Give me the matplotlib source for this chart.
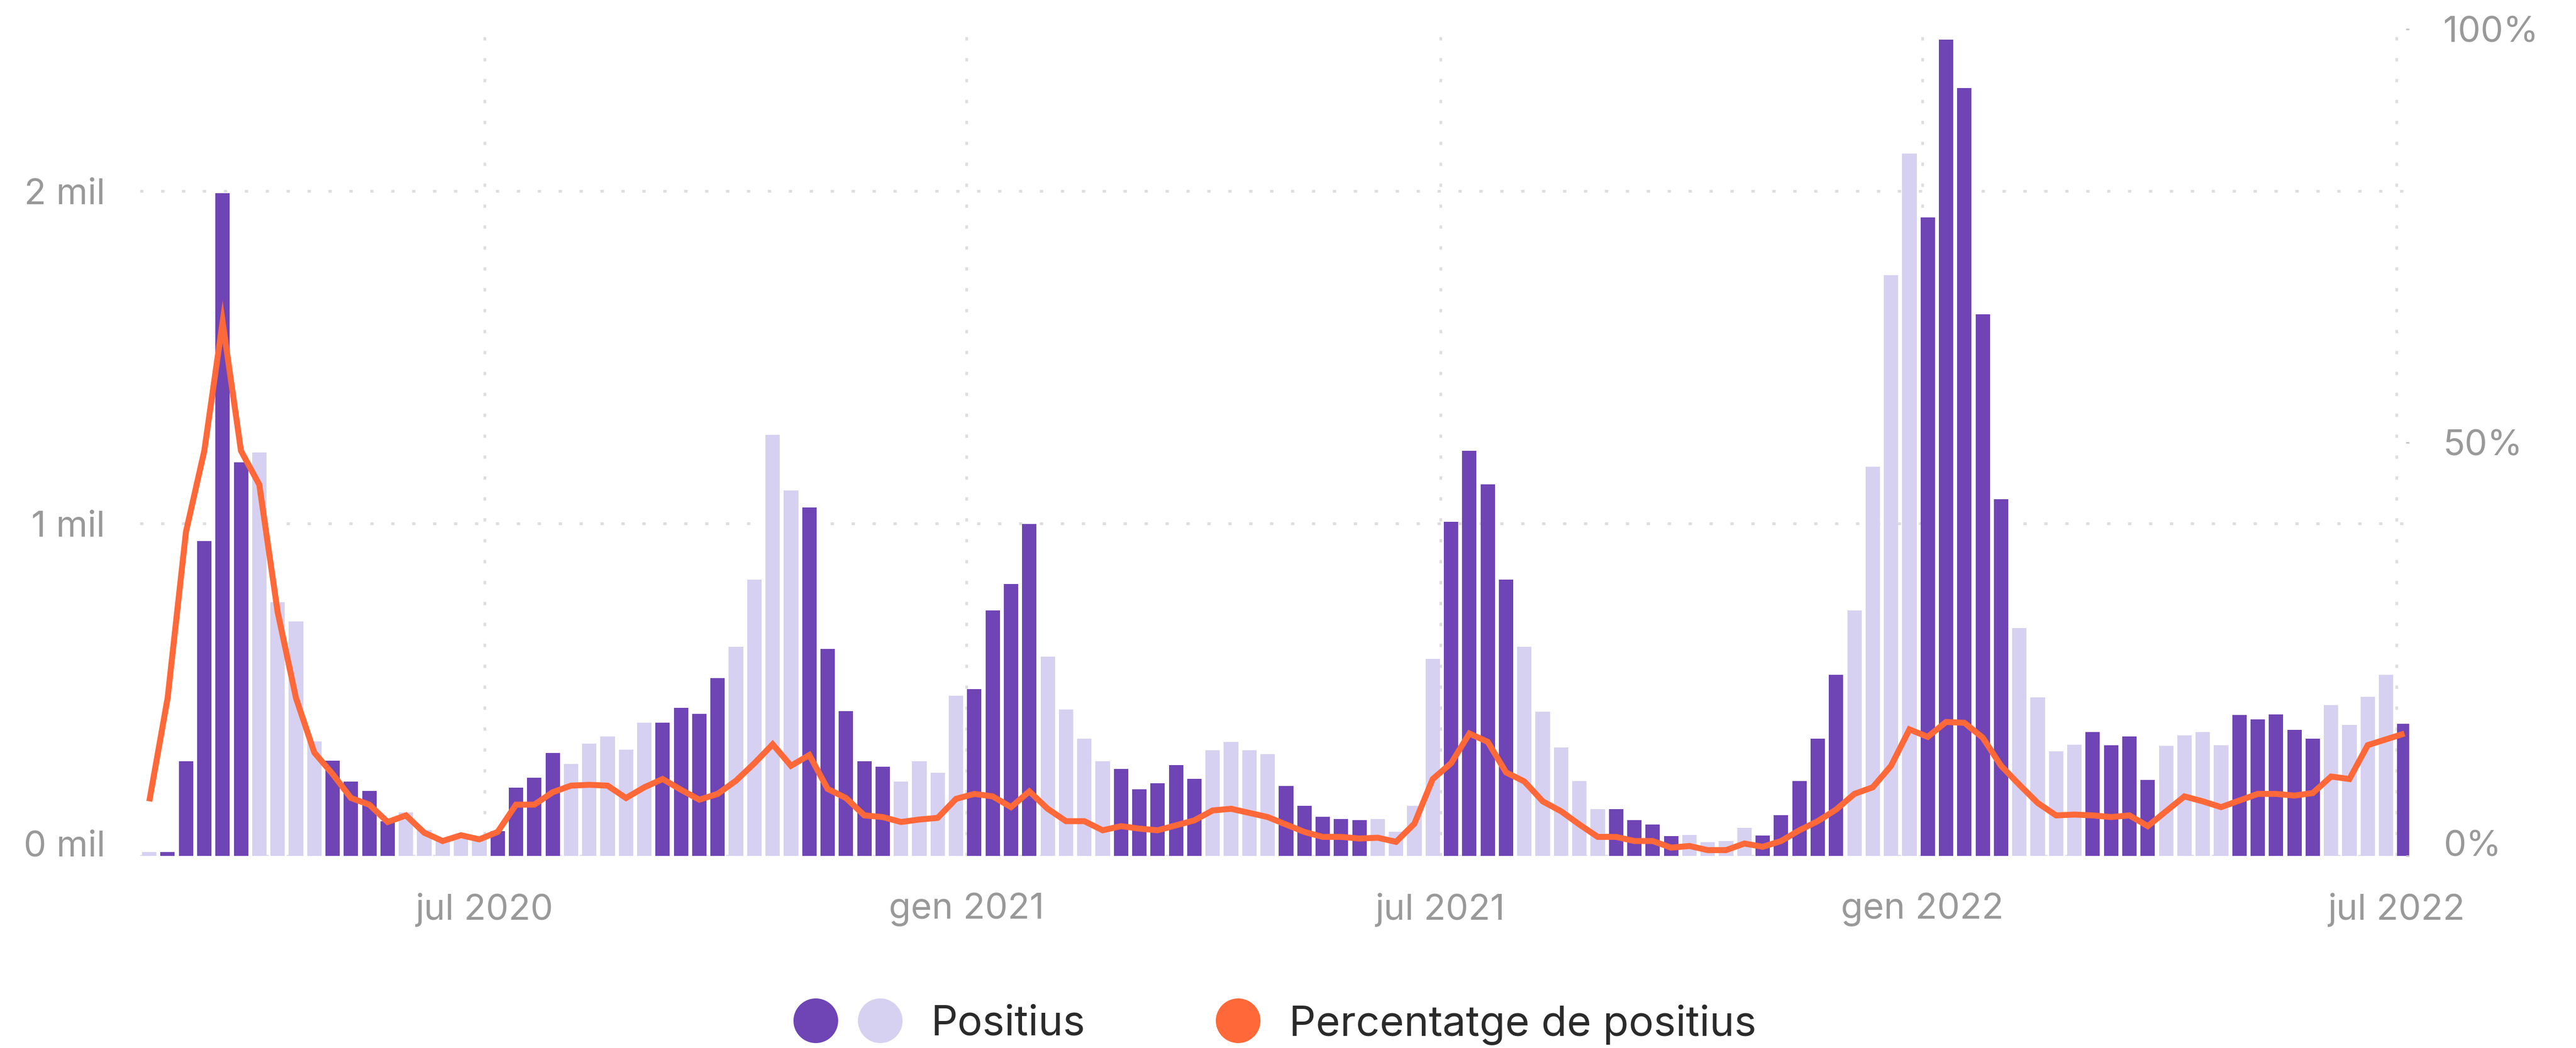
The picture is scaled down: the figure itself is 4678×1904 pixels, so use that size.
import numpy as np
import pandas as pd
import matplotlib
matplotlib.use("Agg")
import matplotlib.pyplot as plt
import matplotlib.dates as mdates
from matplotlib.lines import Line2D
from matplotlib.legend_handler import HandlerTuple

plt.rcParams['font.family'] = ['Inter', 'DejaVu Sans']

# ---------------- data ----------------
first_week = '2020-02-24'   # weekly data, week starting Mondays

positius = [
    11, 11, 285, 947, 1994, 1184, 1213, 763, 706, 344,
    287, 223, 195, 105, 131, 78, 50, 52, 52, 75,
    205, 235, 310, 277, 337, 360, 319, 400, 400, 445,
    427, 534, 630, 832, 1266, 1100, 1048, 623, 435, 285,
    269, 224, 284, 250, 482, 502, 739, 818, 998, 600,
    440, 352, 285, 261, 200, 219, 273, 231, 318, 342,
    318, 306, 211, 150, 118, 111, 108, 111, 73, 150,
    592, 1005, 1219, 1118, 832, 629, 434, 327, 226, 140,
    140, 108, 94, 60, 63, 42, 45, 85, 61, 123,
    226, 353, 545, 739, 1171, 1747, 2113, 1921, 2456, 2310,
    1629, 1073, 685, 477, 315, 334, 373, 332, 360, 229,
    331, 363, 373, 332, 424, 411, 426, 379, 352, 453,
    394, 479, 545, 398,
]

percentatge = [
    6.6, 19.1, 39.2, 49.0, 64.6, 49.0, 44.9, 29.5, 19.1, 12.5,
    9.9, 7.0, 6.2, 4.1, 4.9, 2.8, 1.8, 2.5, 2.0, 2.9,
    6.2, 6.2, 7.7, 8.5, 8.6, 8.5, 7.0, 8.3, 9.3, 8.0,
    6.8, 7.5, 9.1, 11.2, 13.5, 10.9, 12.2, 8.1, 7.0, 4.9,
    4.7, 4.1, 4.4, 4.6, 6.9, 7.5, 7.2, 5.9, 7.8, 5.7,
    4.2, 4.2, 3.1, 3.6, 3.3, 3.1, 3.7, 4.3, 5.5, 5.7,
    5.2, 4.7, 3.8, 2.9, 2.3, 2.3, 2.1, 2.2, 1.7, 3.9,
    9.3, 11.2, 14.8, 13.8, 10.1, 9.0, 6.6, 5.4, 3.8, 2.3,
    2.3, 1.8, 1.8, 1.0, 1.2, 0.7, 0.7, 1.5, 1.1, 1.8,
    3.1, 4.2, 5.6, 7.5, 8.3, 10.9, 15.3, 14.4, 16.2, 16.1,
    14.3, 10.9, 8.6, 6.4, 4.9, 5.0, 4.9, 4.7, 4.9, 3.6,
    5.4, 7.2, 6.6, 5.9, 6.7, 7.5, 7.5, 7.3, 7.6, 9.6,
    9.3, 13.4, 14.1, 14.8,
]

x_tick_dates = ['2020-07-01', '2021-01-01', '2021-07-01', '2022-01-01', '2022-07-01']
x_tick_labels = ['jul 2020', 'gen 2021', 'jul 2021', 'gen 2022', 'jul 2022']
left_ticks = [0, 1000, 2000]
left_tick_labels = ['0 mil', '1 mil', '2 mil']
right_ticks = [0, 50, 100]
right_tick_labels = ['0%', '50%', '100%']
legend_labels = ['Positius', 'Percentatge de positius']

# ---------------- style ----------------
DARK = '#6f44b5'
LIGHT = '#d7d1f1'
ORANGE = '#ff6838'
GRID = '#dedede'
TICK_COL = '#999999'
TEXT_COL = '#2a2a2a'

W, H, DPI = 4678, 1904, 200
fig = plt.figure(figsize=(W / DPI, H / DPI), dpi=DPI)
ax = fig.add_axes([254 / W, 1 - 1555 / H, (4375 - 254) / W, (1555 - 53) / H])

weeks = pd.date_range(first_week, periods=len(positius), freq='7D')
x = mdates.date2num(weeks)
colors = [DARK if (d.year * 12 + d.month) % 2 == 1 else LIGHT for d in weeks]

ax.bar(x, positius, width=5.5, color=colors, linewidth=0, zorder=2)
ax.set_xlim(mdates.date2num(pd.Timestamp('2020-07-01')) - 131.6,
            mdates.date2num(pd.Timestamp('2022-07-01')) + 4.8)
ax.set_ylim(0, 2487)

ax.set_xticks(mdates.date2num(pd.to_datetime(x_tick_dates)))
ax.set_xticklabels(x_tick_labels)
ax.set_yticks(left_ticks)
ax.set_yticklabels(left_tick_labels)
ax.set_axisbelow(True)
ax.grid(True, color=GRID, linewidth=1.8, linestyle=(0, (1.2, 6.4)))
ax.tick_params(axis='x', length=0, pad=24, labelsize=23.5, labelcolor=TICK_COL)
ax.tick_params(axis='y', length=0, pad=22.7, labelsize=23.5, labelcolor=TICK_COL)
for s in ax.spines.values():
    s.set_visible(False)
ax.yaxis.get_major_ticks()[0].label1.set_verticalalignment('baseline')

ax2 = ax.twinx()
ax2.plot(x, percentatge, color=ORANGE, linewidth=3.9, solid_joinstyle='miter',
         solid_capstyle='butt', zorder=3)
ax2.set_ylim(0, 100)
ax2.set_yticks(right_ticks)
ax2.set_yticklabels(right_tick_labels)
ax2.tick_params(axis='y', length=2.2, width=1.1, color='#c8c8c8', direction='in',
                pad=22.3, labelsize=23.5, labelcolor=TICK_COL)
for s in ax2.spines.values():
    s.set_visible(False)
ax2.yaxis.get_major_ticks()[0].label2.set_verticalalignment('baseline')

# ---------------- legend ----------------
ms = 29.2
h_dark = Line2D([], [], marker='o', ls='', ms=ms, mfc=DARK, mec='none')
h_light = Line2D([], [], marker='o', ls='', ms=ms, mfc=LIGHT, mec='none')
h_blank = Line2D([], [], marker='o', ls='', ms=ms, mfc='none', mec='none')
h_orange = Line2D([], [], marker='o', ls='', ms=ms, mfc=ORANGE, mec='none')
fig.legend([(h_dark, h_light), (h_blank, h_orange)], legend_labels,
           handler_map={tuple: HandlerTuple(ndivide=None, pad=0.448)},
           ncol=2, loc='center', bbox_to_anchor=(0.4947, 0.0226),
           frameon=False, fontsize=27.3, labelcolor=TEXT_COL,
           handlelength=2.637, handletextpad=0.68, columnspacing=1.56,
           borderpad=0, borderaxespad=0)

fig.savefig('out.png', dpi=DPI)
